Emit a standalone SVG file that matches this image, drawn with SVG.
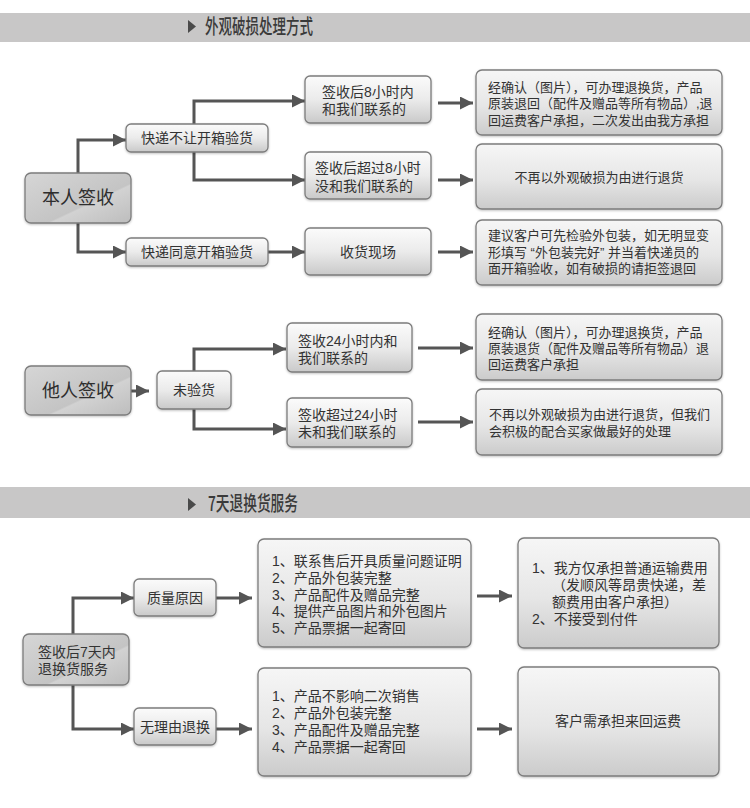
<svg xmlns="http://www.w3.org/2000/svg" width="750" height="808" viewBox="0 0 750 808">
<defs>
<linearGradient id="gBox" x1="0" y1="0" x2="0" y2="1">
<stop offset="0" stop-color="#fbfbfb"/><stop offset="0.5" stop-color="#ebebeb"/><stop offset="1" stop-color="#c9c9c9"/>
</linearGradient>
<linearGradient id="gBig" x1="0" y1="0" x2="0" y2="1">
<stop offset="0" stop-color="#f6f6f6"/><stop offset="0.55" stop-color="#e6e6e6"/><stop offset="1" stop-color="#cbcbcb"/>
</linearGradient>
<linearGradient id="gMain" x1="0" y1="0" x2="1" y2="1">
<stop offset="0" stop-color="#d6d6d6"/><stop offset="0.6" stop-color="#c4c4c4"/><stop offset="0.62" stop-color="#d2d2d2"/><stop offset="1" stop-color="#bdbdbd"/>
</linearGradient>
<filter id="sh" x="-10%" y="-10%" width="120%" height="130%">
<feDropShadow dx="0" dy="1" stdDeviation="1" flood-color="#000" flood-opacity="0.25"/>
</filter>
<marker id="ah" markerUnits="userSpaceOnUse" markerWidth="14" markerHeight="14" refX="13" refY="6.5" orient="auto">
<path d="M0,0 L13,6.5 L0,13 Z" fill="#555"/>
</marker>
<style>
.box{fill:url(#gBox);stroke:#7c7c7c;stroke-width:1.3;filter:url(#sh)}
.big{fill:url(#gBig);stroke:#7c7c7c;stroke-width:1.3;filter:url(#sh)}
.main{fill:url(#gMain);stroke:#7c7c7c;stroke-width:1.3;filter:url(#sh)}
.t{font-family:"Liberation Sans","Noto Sans CJK SC",sans-serif;fill:#333;font-size:13px}
.t14{font-size:14px}
.tm{font-family:"Noto Sans CJK SC","Liberation Sans",sans-serif;fill:#2e2e2e;font-size:18px;text-anchor:middle}
.c{text-anchor:middle}
.h{font-family:"Noto Sans CJK SC","Liberation Sans",sans-serif;fill:#3a3a3a;font-size:20px;font-weight:500}
.band{fill:#c8c7c7}
.conn path{fill:none;stroke:#555;stroke-width:3;marker-end:url(#ah)}
</style>
</defs>
<rect width="750" height="808" fill="#fff"/>

<g id="header1">
<rect class="band" x="0" y="13" width="750" height="29"/>
<path d="M188,20 L196,26.5 L188,33 Z" fill="#4a4a4a"/>
<text class="h" x="205" y="34" textLength="108" lengthAdjust="spacingAndGlyphs">外观破损处理方式</text>
</g>
<g id="header2">
<rect class="band" x="0" y="487" width="750" height="31"/>
<path d="M188,498 L196,504.5 L188,511 Z" fill="#4a4a4a"/>
<text class="h" x="208" y="511" textLength="90" lengthAdjust="spacingAndGlyphs">7天退换货服务</text>
</g>

<g id="connectors" class="conn">
<path d="M78,173 V140 H126"/>
<path d="M78,223 V252 H126"/>
<path d="M194,124 V101 H305"/>
<path d="M194,152 V180 H305"/>
<path d="M268,252 H305"/>
<path d="M438,103 H473"/>
<path d="M438,180 H473"/>
<path d="M438,252 H473"/>
<path d="M131,391 H149"/>
<path d="M194,371 V349 H286"/>
<path d="M194,409 V429 H286"/>
<path d="M418,348 H473"/>
<path d="M418,422 H473"/>
<path d="M73,634 V598 H134"/>
<path d="M73,685 V729 H134"/>
<path d="M216,598 H252"/>
<path d="M216,729 H252"/>
<path d="M477,596 H512"/>
<path d="M477,729 H512"/>
</g>

<g id="n-benren"><rect class="main" x="25" y="173" width="106" height="50" rx="6"/><text class="tm" x="78" y="204">本人签收</text></g>
<g id="n-burang"><rect class="box" x="126" y="124" width="142" height="28" rx="5"/><text class="t t14 c" x="197" y="143">快递不让开箱验货</text></g>
<g id="n-tongyi"><rect class="box" x="126" y="238" width="142" height="28" rx="5"/><text class="t t14 c" x="197" y="257">快递同意开箱验货</text></g>
<g id="n-8in"><rect class="box" x="305" y="76" width="126" height="47" rx="5"/><text class="t t14" x="322" y="97">签收后8小时内<tspan x="322" dy="17">和我们联系的</tspan></text></g>
<g id="n-8out"><rect class="box" x="305" y="152" width="126" height="47" rx="5"/><text class="t t14" x="315" y="173">签收后超过8小时<tspan x="315" dy="18">没和我们联系的</tspan></text></g>
<g id="n-xianchang"><rect class="box" x="305" y="228" width="126" height="47" rx="5"/><text class="t t14 c" x="368" y="257">收货现场</text></g>
<g id="n-r1"><rect class="big" x="476" y="70" width="246" height="65" rx="6"/>
<text class="t" x="488" y="91.5">经确认（图片），可办理退换货，产品<tspan x="488" dy="16.5">原装退回（配件及赠品等所有物品）,退</tspan><tspan x="488" dy="16.5">回运费客户承担，二次发出由我方承担</tspan></text></g>
<g id="n-r2"><rect class="big" x="476" y="144" width="246" height="65" rx="6"/>
<text class="t c" x="599" y="181.5">不再以外观破损为由进行退货</text></g>
<g id="n-r3"><rect class="big" x="476" y="220" width="246" height="65" rx="6"/>
<text class="t" x="488" y="239.5">建议客户可先检验外包装，如无明显变<tspan x="488" dy="17">形填写 “外包装完好” 并当着快递员的</tspan><tspan x="488" dy="16.5">面开箱验收，如有破损的请拒签退回</tspan></text></g>

<g id="n-taren"><rect class="main" x="25" y="366" width="106" height="49" rx="6"/><text class="tm" x="78" y="397">他人签收</text></g>
<g id="n-weiyan"><rect class="box" x="157" y="371" width="74" height="38" rx="5"/><text class="t t14 c" x="194" y="395">未验货</text></g>
<g id="n-24in"><rect class="box" x="287" y="323" width="125" height="49" rx="5"/><text class="t t14" x="298" y="346">签收24小时内和<tspan x="298" dy="16.5">我们联系的</tspan></text></g>
<g id="n-24out"><rect class="box" x="287" y="398" width="125" height="49" rx="5"/><text class="t t14" x="298" y="420">签收超过24小时<tspan x="298" dy="16.5">未和我们联系的</tspan></text></g>
<g id="n-r4"><rect class="big" x="476" y="314" width="246" height="66" rx="6"/>
<text class="t" x="488" y="336.5">经确认（图片），可办理退换货，产品<tspan x="488" dy="16">原装退货（配件及赠品等所有物品）退</tspan><tspan x="488" dy="16">回运费客户承担</tspan></text></g>
<g id="n-r5"><rect class="big" x="476" y="389" width="246" height="66" rx="6"/>
<text class="t" x="489" y="418.5">不再以外观破损为由进行退货，但我们<tspan x="489" dy="17">会积极的配合买家做最好的处理</tspan></text></g>

<g id="n-7day"><rect class="main" x="23" y="634" width="106" height="51" rx="6"/><text class="t t14" x="38" y="657">签收后7天内<tspan x="38" dy="17">退换货服务</tspan></text></g>
<g id="n-zhiliang"><rect class="box" x="134" y="579" width="82" height="37" rx="5"/><text class="t t14 c" x="175" y="603">质量原因</text></g>
<g id="n-wuliyou"><rect class="box" x="134" y="708" width="82" height="37" rx="5"/><text class="t t14 c" x="175" y="732">无理由退换</text></g>
<g id="n-a"><rect class="big" x="258" y="539" width="213" height="108" rx="6"/>
<text class="t t14" x="272" y="566">1、联系售后开具质量问题证明<tspan x="272" dy="16.75">2、产品外包装完整</tspan><tspan x="272" dy="16.75">3、产品配件及赠品完整</tspan><tspan x="272" dy="16.75">4、提供产品图片和外包图片</tspan><tspan x="272" dy="16.75">5、产品票据一起寄回</tspan></text></g>
<g id="n-b"><rect class="big" x="258" y="668" width="213" height="108" rx="6"/>
<text class="t t14" x="272" y="701">1、产品不影响二次销售<tspan x="272" dy="17">2、产品外包装完整</tspan><tspan x="272" dy="17">3、产品配件及赠品完整</tspan><tspan x="272" dy="17">4、产品票据一起寄回</tspan></text></g>
<g id="n-c"><rect class="big" x="518" y="538" width="201" height="110" rx="6"/>
<text class="t t14" x="532" y="573">1、我方仅承担普通运输费用<tspan x="552" dy="17">（发顺风等昂贵快递，差</tspan><tspan x="552" dy="17">额费用由客户承担）</tspan><tspan x="532" dy="17">2、不接受到付件</tspan></text></g>
<g id="n-d"><rect class="big" x="518" y="667" width="201" height="109" rx="6"/>
<text class="t t14 c" x="618" y="726">客户需承担来回运费</text></g>
</svg>
